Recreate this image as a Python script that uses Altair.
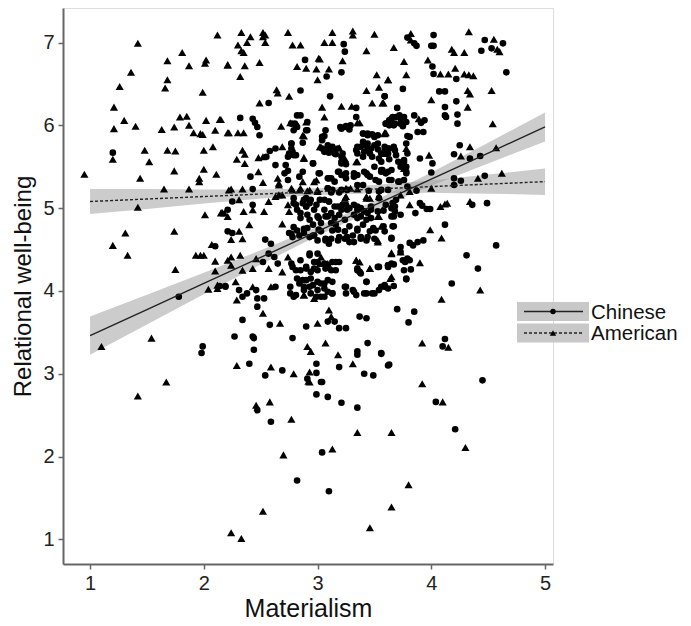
import altair as alt
import pandas as pd

# ---- Data ----
chinese_points = [
    (1.20,5.67),(2.10,4.54),(2.14,4.06),(2.19,4.06),(1.78,3.93),(1.99,3.33),(1.98,3.25),
    (2.47,2.56),(2.59,2.42),(2.82,1.71),
    (3.04,2.90),(2.99,2.75),(3.09,2.72),(3.21,2.65),(3.35,2.59),(4.45,2.92),(4.04,2.66),(4.21,2.33),(3.04,2.05),(3.10,1.58),
    (4.36,5.04),(4.49,5.06),(3.90,5.06),(3.92,5.03),(3.96,4.99),(3.99,4.99),(3.86,4.94),(3.66,5.06),(3.69,5.10),(3.68,5.02),
    (3.58,4.97),(3.67,4.90),(3.58,4.78),(3.67,4.78),(4.12,4.80),(3.65,4.64),(3.81,4.58),(3.84,4.55),(3.88,4.59),(3.93,4.61),
    (4.57,4.55),(4.31,4.43),(3.75,4.37),(3.79,4.39),(3.77,4.35),(3.67,4.32),(3.62,4.31),(4.41,4.27),(3.76,4.25),(3.82,4.26),
    (3.78,4.14),(3.59,4.05),(3.67,4.06),(4.18,4.09),(3.70,3.78),(3.85,3.75),(3.80,3.62),(4.12,3.42),(4.10,3.33),(3.56,3.25),(3.63,3.11),
    (3.79,7.06),(3.85,6.99),(3.87,6.96),(4.02,7.09),(4.00,6.96),(4.02,6.96),(4.47,7.03),(4.53,6.93),(4.63,6.99),(4.44,6.90),
    (4.01,6.71),(4.02,6.62),(4.22,6.56),(4.66,6.64),(3.75,6.44),(4.07,6.41),(4.12,6.41),(3.59,6.35),(4.12,6.22),(4.12,6.12),
    (4.13,6.10),(4.22,6.29),(3.70,6.21),(4.23,6.13),(4.23,6.02),(3.60,6.02),(3.65,6.08),(3.69,6.10),(3.73,6.08),(3.76,6.10),
    (3.63,6.00),(3.67,6.00),(3.75,5.99),(3.85,6.12),(3.91,6.03),(3.94,6.06),(3.88,5.92),(3.93,5.92),(3.79,5.87),(3.81,5.86),
    (3.67,5.74),(3.62,5.72),(3.78,5.78),(3.79,5.66),(3.69,5.64),(3.90,5.60),(4.01,5.54),(3.76,5.56),(3.78,5.50),(4.25,5.76),
    (4.20,5.65),(4.34,5.60),(4.43,5.63),(4.00,5.43),(4.47,5.39),(4.20,5.36),(4.26,5.33),(4.20,5.28),(3.57,5.46),(3.62,5.44),
    (3.78,5.44),(3.65,5.34),(3.72,5.32),(3.76,5.34),(3.79,5.26),(3.87,5.21),(3.59,5.74),
    (3.23,6.98),(3.24,6.89),(2.89,6.79),(3.21,6.64),(3.08,6.59),(2.85,6.42),(3.59,6.35),(3.11,6.35),(2.57,6.27),(3.34,6.21),
    (2.32,6.09),(2.43,6.08),(2.45,6.03),(2.47,5.98),(2.49,5.88),(2.82,6.12),(2.85,6.12),(2.80,6.02),(2.82,5.98),(2.91,6.04),
    (2.91,5.94),(3.07,5.94),(3.04,5.86),(3.20,5.98),(3.25,5.99),(3.28,5.95),(3.34,6.10),(3.40,5.90),(3.44,5.88),(3.48,5.89),
    (3.50,5.86),(3.53,5.88),(3.63,6.06),(3.60,6.02),(2.77,5.78),(2.77,5.72),(2.75,5.66),(2.74,5.62),(2.79,5.64),(2.96,5.54),
    (2.63,5.72),(2.58,5.69),(2.55,5.62),(2.41,5.38),(2.74,5.45),(2.74,5.34),(3.01,5.42),(3.10,5.36),(3.15,5.32),(3.04,5.72),
    (3.09,5.72),(3.13,5.70),(3.18,5.72),(3.16,5.65),(3.21,5.56),(3.25,5.53),(3.21,5.62),(3.19,5.44),(3.25,5.42),(3.32,5.42),
    (3.35,5.40),(3.41,5.44),(3.44,5.40),(3.34,5.70),(3.38,5.74),(3.41,5.68),(3.44,5.72),(3.44,5.78),(3.50,5.76),(3.53,5.71),
    (3.56,5.66),(3.54,5.60),(3.60,5.70),(3.63,5.59),(3.50,5.50),(3.56,5.46),(3.60,5.42),(2.63,5.52),(2.71,5.42),(2.72,5.52),
    (2.84,5.38),(2.87,5.44),(2.43,5.23),(3.09,5.24),(3.12,5.19),(3.19,5.19),(3.26,5.22),(3.45,5.21),(3.54,5.20),(3.62,5.22),
    (2.25,5.08),(2.43,5.04),(2.21,4.98),(2.79,5.06),(2.87,5.06),(2.90,5.12),(2.94,5.10),(2.99,5.04),(3.02,5.10),(3.10,5.08),
    (3.18,5.02),(3.22,5.04),(3.26,4.98),(3.32,5.04),(3.38,5.00),(3.60,5.04),(3.53,4.96),(2.85,4.94),(2.91,4.92),(3.00,4.90),
    (3.07,4.90),(3.12,4.94),(3.19,4.92),(3.32,4.92),(3.38,4.90),(3.44,4.94),(2.21,4.72),(2.25,4.70),(2.54,4.62),(2.59,4.57),
    (2.75,4.70),(2.78,4.65),(2.82,4.73),(2.88,4.70),(2.91,4.76),(2.96,4.67),(3.00,4.61),(3.03,4.72),(3.07,4.61),(3.10,4.57),
    (3.13,4.73),(3.16,4.80),(3.19,4.65),(3.24,4.72),(3.26,4.65),(3.31,4.67),(3.35,4.73),(3.38,4.65),(3.44,4.65),(3.49,4.76),
    (3.59,4.72),(3.03,4.82),(2.52,4.35),(2.57,4.45),(2.62,4.41),(2.65,4.33),(2.77,4.33),(2.81,4.25),(2.85,4.37),(2.90,4.29),
    (2.93,4.45),(2.97,4.27),(3.00,4.35),(3.09,4.31),(3.13,4.35),(3.16,4.25),(3.19,4.35),(3.35,4.27),(3.37,4.23),(3.53,4.29),
    (3.62,4.29),(2.19,4.05),(2.31,4.01),(2.34,3.93),(2.38,3.97),(2.46,4.01),(2.47,3.91),(2.53,3.91),(2.63,4.05),(2.76,4.05),
    (2.76,3.97),(2.79,3.93),(2.84,4.09),(2.88,4.01),(2.90,4.13),(2.93,4.05),(2.94,3.97),(3.00,4.01),(3.03,3.93),(3.06,4.09),
    (3.09,3.99),(3.13,3.97),(3.25,4.05),(3.32,3.99),(3.43,4.11),(3.43,3.97),(3.50,3.97),(3.56,4.05),(3.59,4.07),(2.47,3.81),
    (2.34,3.65),(2.58,3.59),(2.27,3.45),(2.43,3.45),(2.44,3.43),(2.44,3.29),(2.78,3.43),(2.90,3.57),(3.09,3.63),(3.15,3.63),
    (3.19,3.55),(3.25,3.55),(3.37,3.69),(3.43,3.67),(3.44,3.37),(3.35,3.27),(3.35,3.23),(3.56,3.24),(2.40,3.12),(2.54,2.98),
    (2.69,3.04),(2.99,3.12),(2.99,3.01),(2.91,2.94),(3.03,2.90),(3.19,3.08),(3.41,3.00),(3.49,2.98),(3.62,3.10),
    # dense centre, upper part
    (3.66,6.10),(3.72,6.12),(3.62,6.02),(3.68,6.02),(3.73,6.02),(3.78,6.04),(2.77,6.02),(2.81,6.00),(3.21,5.96),(3.25,5.98),
    (3.29,6.00),(2.79,5.94),(2.90,5.94),(3.40,5.90),(3.44,5.90),(3.06,5.87),(3.04,5.82),(2.87,5.79),(3.09,5.76),(3.13,5.74),
    (3.22,5.66),(3.06,5.68),(3.10,5.67),(3.15,5.66),(3.35,5.74),(3.40,5.80),(3.43,5.76),(3.47,5.72),(3.46,5.66),(3.35,5.66),
    (3.40,5.62),(3.48,5.62),(3.53,5.78),(3.59,5.70),(3.63,5.72),(3.68,5.70),(3.62,5.66),(3.71,5.56),(3.76,5.58),(2.77,5.78),
    (2.78,5.68),(2.81,5.64),(2.96,5.54),(3.21,5.54),(3.56,5.56),(3.02,5.42),(3.09,5.36),(3.12,5.36),(3.18,5.44),(3.21,5.40),
    (3.25,5.36),(3.32,5.38),(3.43,5.42),(3.46,5.38),(3.56,5.44),(3.65,5.46),(3.73,5.50),(3.78,5.42),(3.63,5.34),(3.71,5.32),
    (3.51,5.34),(3.54,5.32),(3.35,5.28),(3.40,5.28),(3.56,5.22),(3.09,5.24),(3.13,5.22),(3.21,5.22),(2.88,5.10),(2.93,5.06),
    (2.90,5.02),(3.06,5.10),(3.10,5.08),(3.25,5.04),(3.54,5.12),(3.35,5.02),(3.47,5.02),(2.79,5.12),(2.81,5.04),
    # dense centre, lower part
    (2.82,4.98),(2.90,5.02),(2.97,4.98),(3.06,4.98),(3.15,5.02),(3.21,4.98),(3.28,5.00),(3.35,4.98),(3.41,4.96),(3.47,4.98),
    (3.65,5.00),(3.68,4.96),(2.85,4.88),(2.93,4.86),(3.01,4.88),(3.09,4.90),(3.15,4.88),(3.24,4.86),(3.35,4.88),(3.43,4.86),
    (3.47,4.88),(3.65,4.90),(3.73,4.92),(2.79,4.77),(2.88,4.75),(2.96,4.80),(3.01,4.74),(3.12,4.82),(3.18,4.74),(3.28,4.78),
    (3.35,4.75),(3.40,4.80),(3.46,4.72),(3.51,4.73),(3.66,4.78),(2.77,4.69),(2.84,4.67),(2.93,4.65),(2.97,4.67),(3.07,4.63),
    (3.12,4.63),(3.18,4.61),(3.24,4.63),(3.28,4.59),(3.32,4.59),(3.38,4.63),(3.43,4.61),(3.50,4.63),(3.65,4.63),(3.73,4.53),
    (2.93,4.43),(3.00,4.45),(2.97,4.35),(3.06,4.33),(3.16,4.35),(3.73,4.47),(3.81,4.37),(2.78,4.29),(2.85,4.25),(2.90,4.27),
    (2.94,4.23),(3.00,4.25),(3.07,4.27),(3.12,4.25),(3.35,4.25),(3.38,4.21),(3.54,4.29),(3.62,4.31),(3.65,4.33),(3.78,4.15),
    (2.82,4.15),(2.87,4.13),(2.94,4.15),(3.00,4.11),(3.09,4.13),(3.13,4.11),(2.88,4.05),(2.96,4.07),(3.03,4.09),(3.06,4.03),
    (3.24,4.05),(3.31,4.01),(3.34,3.95),(3.43,4.11),(3.41,3.97),(3.48,3.97),(3.54,4.01),(3.62,4.03),(2.81,3.95),(2.99,3.93),
    (3.06,3.93),(3.13,3.97),(3.25,3.97),
]

american_points = [
    (2.12,7.09),(1.42,6.99),(1.81,6.88),(1.68,6.78),(2.02,6.79),(2.01,6.75),(1.87,6.72),(2.21,6.73),(1.36,6.64),(1.68,6.55),
    (1.66,6.45),(1.26,6.47),(1.99,6.40),(1.21,6.22),(1.79,6.10),(1.85,6.11),(1.30,6.06),(1.40,5.99),(1.21,5.96),(1.63,5.95),
    (1.74,5.98),(1.87,6.00),(2.02,6.06),(2.14,6.07),(1.91,5.91),(1.97,5.90),(1.99,5.89),(2.10,5.94),(2.21,5.91),(1.48,5.70),
    (1.68,5.70),(1.75,5.69),(2.00,5.70),(2.08,5.74),(1.20,5.59),(1.52,5.56),(1.74,5.45),(2.00,5.47),(2.11,5.41),(1.96,5.36),
    (1.96,5.32),(0.95,5.41),(1.44,5.36),(1.65,5.23),(1.87,5.23),(2.22,5.22),
    (1.42,5.01),(2.01,4.92),(2.16,4.95),(2.18,4.94),(2.21,4.90),(1.31,4.70),(1.74,4.72),(1.20,4.55),(1.33,4.43),(2.07,4.56),
    (1.93,4.43),(1.97,4.43),(2.00,4.43),(2.10,4.36),(1.75,4.26),(2.10,4.24),(2.21,4.37),(2.04,4.02),(2.12,4.07),(2.12,4.03),
    (1.54,3.43),(1.10,3.33),(1.67,2.90),
    (1.42,2.73),(2.46,2.62),(2.58,2.66),(2.77,2.45),(2.70,2.02),(2.52,1.34),(2.24,1.08),(2.33,1.01),
    (2.92,2.91),(3.92,2.88),(4.10,2.66),(3.35,2.29),(3.65,2.29),(3.13,2.09),(4.30,2.11),(3.80,1.66),(3.65,1.39),(3.46,1.14),
    (4.34,5.08),(4.12,5.05),(4.14,5.06),(4.08,5.02),(3.81,5.04),(3.99,4.74),(4.09,4.64),(3.65,4.46),(3.73,4.47),(3.90,4.34),
    (3.64,4.15),(4.43,4.01),(4.09,3.90),(3.92,3.37),(4.15,3.32),
    (4.33,7.13),(3.82,7.11),(3.82,7.03),(3.67,6.94),(4.18,6.92),(4.20,6.88),(4.29,6.88),(4.55,7.04),(4.58,6.92),(4.60,6.89),
    (3.76,6.77),(3.97,6.79),(3.78,6.61),(4.08,6.62),(4.15,6.62),(4.21,6.69),(4.29,6.62),(4.33,6.61),(4.37,6.60),(3.62,6.55),
    (4.32,6.42),(4.34,6.38),(4.53,6.42),(4.00,6.31),(3.57,6.27),(4.32,6.22),(4.54,6.02),(3.89,6.08),(3.59,5.90),(3.78,5.72),
    (3.98,5.64),(4.34,5.74),(4.26,5.63),(4.57,5.73),(4.41,5.36),(4.62,5.42),(3.76,5.48),(3.81,5.20),(4.00,5.24),(3.59,5.66),
    (2.33,7.12),(2.41,7.07),(2.52,7.12),(2.54,7.09),(2.52,7.07),(2.54,7.00),(2.74,7.12),(2.30,6.97),(2.33,6.90),(2.35,6.88),
    (2.38,7.00),(2.78,6.97),(2.85,6.97),(3.13,7.12),(3.31,7.14),(3.31,7.09),(3.50,7.10),(3.06,7.00),(3.13,7.00),(3.43,6.90),
    (2.21,6.73),(2.36,6.72),(2.49,6.76),(3.01,6.81),(3.02,6.80),(2.82,6.71),(2.90,6.69),(2.99,6.68),(3.10,6.68),(3.22,6.78),
    (2.32,6.59),(3.00,6.55),(3.52,6.61),(3.62,6.55),(2.64,6.43),(2.65,6.39),(2.75,6.35),(3.43,6.42),(3.54,6.46),(2.49,6.27),
    (3.04,6.22),(3.21,6.23),(3.30,6.23),(3.48,6.27),(3.58,6.27),(2.15,6.07),(2.22,5.91),(2.30,5.91),(2.35,5.91),(2.68,5.99),
    (2.76,6.03),(2.87,5.88),(3.06,6.10),(3.02,5.74),(3.35,6.03),(3.59,5.91),(2.88,5.61),(2.69,5.74),(2.52,5.62),(2.34,5.70),
    (2.36,5.65),(2.29,5.59),(2.36,5.54),(2.48,5.61),(2.48,5.44),(2.52,5.31),(2.65,5.36),(2.66,5.30),(2.87,5.32),(3.35,5.56),
    (3.40,5.78),(2.24,5.23),(2.34,5.23),(2.66,5.28),(2.69,5.16),(2.78,5.22),(2.84,5.22),(2.91,5.21),(3.00,5.20),(3.35,5.23),
    (2.31,5.10),(2.15,4.94),(2.35,4.96),(2.43,4.98),(2.53,4.96),(2.57,5.08),(2.63,5.14),(2.66,5.16),(2.74,5.04),(2.75,4.96),
    (3.25,5.14),(3.43,5.14),(3.54,5.14),(3.53,4.90),(2.24,4.62),(2.31,4.72),(2.34,4.63),(2.40,4.80),(2.69,4.81),(3.53,4.61),
    (2.24,4.41),(2.24,4.31),(2.32,4.43),(2.34,4.25),(2.43,4.27),(2.46,4.39),(2.57,4.27),(2.69,4.23),(2.74,4.41),(3.03,4.41),
    (3.34,4.37),(3.46,4.27),(2.28,4.11),(2.29,3.89),(2.43,4.05),(2.59,4.05),(2.97,3.91),(2.88,3.95),(2.52,3.73),(2.67,3.61),
    (3.00,3.61),(3.10,3.77),(3.12,3.69),(3.07,3.37),(2.91,3.33),(2.94,3.27),(3.18,3.23),(2.29,3.10),(2.59,3.08),(2.79,3.00),
    (2.93,3.02),(2.93,2.90),(3.31,3.12),
    # dense centre
    (3.37,6.03),(2.90,6.04),(2.88,5.87),(3.03,5.74),(3.19,5.73),(2.88,5.60),(3.24,5.60),(3.34,5.56),(2.97,5.32),(2.99,5.34),
    (2.77,5.24),(2.85,5.24),(2.93,5.22),(3.00,5.22),(3.25,5.24),(3.29,5.24),(3.73,5.16),(3.24,5.12),(3.43,5.12),(3.46,5.12),
    (3.60,5.91),(3.57,4.98),(3.54,4.90),(3.56,4.78),(3.53,4.59),(3.02,4.33),(3.09,4.33),(3.34,4.37),(3.37,4.35),(3.65,4.45),
    (3.46,4.27),(3.65,4.17),(2.88,3.95),
]

# regression fits and confidence bands (read at these x positions)
band_x = [1.0, 1.5, 2.0, 2.5, 3.0, 3.5, 4.0, 4.5, 5.0]
chinese_fit = [3.46, 3.775, 4.09, 4.405, 4.72, 5.035, 5.35, 5.665, 5.98]
chinese_lo = [3.23, 3.595, 3.96, 4.32, 4.665, 4.98, 5.27, 5.54, 5.805]
chinese_hi = [3.69, 3.955, 4.22, 4.49, 4.775, 5.09, 5.43, 5.79, 6.155]
american_fit = [5.08, 5.11, 5.14, 5.17, 5.20, 5.23, 5.26, 5.29, 5.32]
american_lo = [4.93, 4.99, 5.055, 5.115, 5.16, 5.18, 5.185, 5.175, 5.16]
american_hi = [5.23, 5.23, 5.225, 5.225, 5.24, 5.28, 5.335, 5.405, 5.48]

groups = ["Chinese", "American"]
x_ticks = [1, 2, 3, 4, 5]
y_ticks = [1, 2, 3, 4, 5, 6, 7]

FONT = "Liberation Sans"

pts = pd.DataFrame(
    [{"m": x, "w": y, "group": "Chinese"} for x, y in chinese_points]
    + [{"m": x, "w": y, "group": "American"} for x, y in american_points]
)
fits = pd.DataFrame(
    [{"m": x, "fit": f, "lo": lo, "hi": hi, "group": "Chinese"}
     for x, f, lo, hi in zip(band_x, chinese_fit, chinese_lo, chinese_hi)]
    + [{"m": x, "fit": f, "lo": lo, "hi": hi, "group": "American"}
       for x, f, lo, hi in zip(band_x, american_fit, american_lo, american_hi)]
)

xs = alt.Scale(domain=[0.762, 5.07], nice=False, zero=False)
ys = alt.Scale(domain=[0.702, 7.417], nice=False, zero=False)

x_axis = alt.Axis(values=x_ticks, title="Materialism", grid=False, labelFontSize=20,
                  titleFontSize=25, labelPadding=4, titlePadding=3, tickSize=5,
                  domainColor="#666666", domainWidth=2, tickColor="#666666", tickWidth=1.5,
                  labelColor="#222222", titleColor="#111111", titleFontWeight="normal",
                  labelFont=FONT, titleFont=FONT, format="d")
y_axis = alt.Axis(values=y_ticks, title="Relational well-being", grid=False, labelFontSize=20,
                  titleFontSize=24, labelPadding=4, titlePadding=7, tickSize=5,
                  domainColor="#666666", domainWidth=2, tickColor="#666666", tickWidth=1.5,
                  labelColor="#222222", titleColor="#111111", titleFontWeight="normal",
                  labelFont=FONT, titleFont=FONT, format="d")

base_fit = alt.Chart(fits)

bands = base_fit.mark_area(color="#999999", opacity=0.5).encode(
    x=alt.X("m:Q", scale=xs, axis=x_axis),
    y=alt.Y("lo:Q", scale=ys, axis=y_axis),
    y2="hi:Q",
    detail="group:N",
)

circles = alt.Chart(pts).transform_filter(alt.datum.group == "Chinese").mark_point(
    shape="circle", filled=True, color="black", size=44, opacity=1
).encode(x=alt.X("m:Q", scale=xs), y=alt.Y("w:Q", scale=ys))

triangles = alt.Chart(pts).transform_filter(alt.datum.group == "American").mark_point(
    shape="triangle-up", filled=True, color="black", size=66, opacity=1
).encode(x=alt.X("m:Q", scale=xs), y=alt.Y("w:Q", scale=ys))

line_ch = base_fit.transform_filter(alt.datum.group == "Chinese").mark_line(
    color="#222222", strokeWidth=1.4
).encode(x=alt.X("m:Q", scale=xs), y=alt.Y("fit:Q", scale=ys))

line_am = base_fit.transform_filter(alt.datum.group == "American").mark_line(
    color="#222222", strokeWidth=1.4, strokeDash=[3, 2]
).encode(x=alt.X("m:Q", scale=xs), y=alt.Y("fit:Q", scale=ys))

# ---- legend (drawn as small keyed boxes, like the reference) ----
one = alt.Data(values=[{"k": 0}])
leg = []
for i, name in enumerate(groups):
    yc = 303.5 + i * 21.5
    leg.append(alt.Chart(one).mark_rect(color="#c8c8c8").encode(
        x=alt.value(454), x2=alt.value(526), y=alt.value(yc - 9.5), y2=alt.value(yc + 9.5)))
    rule = alt.Chart(one).mark_rule(color="#222222", strokeWidth=1.4,
                                    **({"strokeDash": [3, 2]} if i == 1 else {}))
    leg.append(rule.encode(x=alt.value(461), x2=alt.value(520), y=alt.value(yc)))
    leg.append(alt.Chart(one).mark_point(
        shape="circle" if i == 0 else "triangle-up", filled=True, color="black",
        size=30 if i == 0 else 40, opacity=1).encode(x=alt.value(490), y=alt.value(yc)))
    leg.append(alt.Chart(one).mark_text(
        text=name, align="left", baseline="middle", fontSize=20.5, font=FONT, color="#111111"
    ).encode(x=alt.value(528), y=alt.value(yc + 1)))

chart = alt.layer(bands, circles, triangles, line_ch, line_am, *leg).properties(
    width=490, height=556,
    autosize=alt.AutoSizeParams(type="none"),
    padding={"left": 55, "top": 0, "right": 130, "bottom": 60},
).configure_view(stroke=None).configure(background="white")

chart.save("out.html", embed_options={"renderer": "svg", "actions": False})
